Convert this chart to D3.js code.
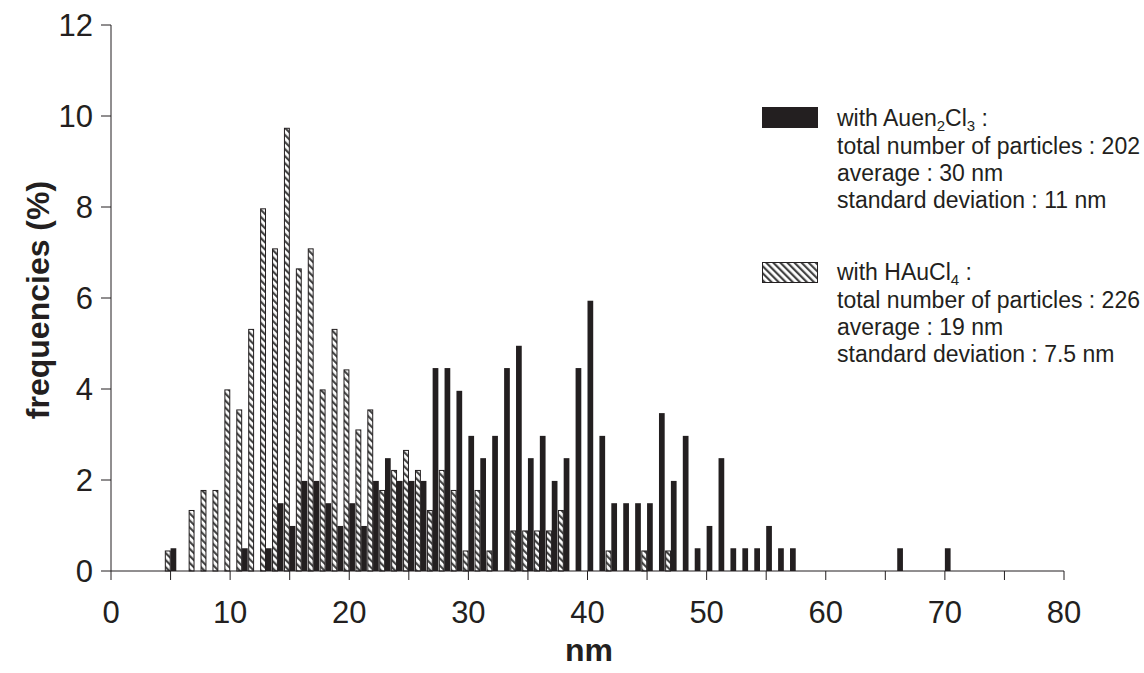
<!DOCTYPE html>
<html>
<head>
<meta charset="utf-8">
<script src="https://cdn.jsdelivr.net/npm/d3@7/dist/d3.min.js"></script>
<style>
  html, body { margin: 0; padding: 0; background: #fff; }
  svg { display: block; font-family: "Liberation Sans", Arial, sans-serif; }
</style>
</head>
<body>
<svg id="chart" width="1144" height="673"></svg>
<script>
// Particle size bins (nm)
const hauBins = [5, 7, 8, 9, 10, 11, 12, 13, 14, 15, 16, 17, 18, 19, 20, 21, 22, 23, 24, 25, 26, 27, 28, 29, 30, 31, 32, 34, 35, 36, 37, 38, 42, 45, 47];
// frequencies (%) with HAuCl4
const hauValues = [0.44, 1.33, 1.77, 1.77, 3.98, 3.54, 5.31, 7.96, 7.08, 9.73, 6.64, 7.08, 3.98, 5.31, 4.42, 3.10, 3.54, 1.77, 2.21, 2.65, 2.21, 1.33, 2.21, 1.77, 0.44, 1.77, 0.44, 0.88, 0.88, 0.88, 0.88, 1.33, 0.44, 0.44, 0.44];

const auenBins = [5, 11, 13, 14, 15, 16, 17, 18, 19, 20, 21, 22, 23, 24, 25, 26, 27, 28, 29, 30, 31, 32, 33, 34, 35, 36, 37, 38, 39, 40, 41, 42, 43, 44, 45, 46, 47, 48, 49, 50, 51, 52, 53, 54, 55, 56, 57, 66, 70];
// frequencies (%) with Auen2Cl3
const auenValues = [0.50, 0.50, 0.50, 1.49, 0.99, 1.98, 1.98, 1.49, 0.99, 1.49, 0.99, 1.98, 2.48, 1.98, 1.98, 1.98, 4.46, 4.46, 3.96, 2.97, 2.48, 2.97, 4.46, 4.95, 2.48, 2.97, 1.98, 2.48, 4.46, 5.94, 2.97, 1.49, 1.49, 1.49, 1.49, 3.47, 1.98, 2.97, 0.50, 0.99, 2.48, 0.50, 0.50, 0.50, 0.99, 0.50, 0.50, 0.50, 0.50];

const xTicks = [0, 10, 20, 30, 40, 50, 60, 70, 80];
const xMinorTicks = [0, 5, 10, 15, 20, 25, 30, 35, 40, 45, 50, 55, 60, 65, 70, 75, 80];
const yTicks = [0, 2, 4, 6, 8, 10, 12];

const legend1 = ["total number of particles : 202", "average : 30 nm", "standard deviation : 11 nm"];
const legend2 = ["total number of particles : 226", "average : 19 nm", "standard deviation : 7.5 nm"];

const ink = "#231f20";
const svg = d3.select("#chart");

const x = d3.scaleLinear().domain([0, 80]).range([111, 1064]);
const y = d3.scaleLinear().domain([0, 12]).range([571, 25]);

// hatch pattern
const defs = svg.append("defs");
const pat = defs.append("pattern")
  .attr("id", "hatch")
  .attr("patternUnits", "userSpaceOnUse")
  .attr("width", 5).attr("height", 5)
  .attr("patternTransform", "rotate(-45)");
pat.append("rect").attr("width", 5).attr("height", 5).attr("fill", "#fff");
pat.append("rect").attr("x", 0).attr("y", 0).attr("width", 2.2).attr("height", 5).attr("fill", "#444");

// bars: hatched
svg.append("g").selectAll("rect")
  .data(hauBins.map((b, i) => ({ b, v: hauValues[i] })))
  .join("rect")
  .attr("x", d => x(d.b - 0.44))
  .attr("width", d => x(d.b - 0.03) - x(d.b - 0.44))
  .attr("y", d => y(d.v))
  .attr("height", d => y(0) - y(d.v))
  .attr("fill", "url(#hatch)")
  .attr("stroke", ink)
  .attr("stroke-width", 1);

// bars: black
svg.append("g").selectAll("rect")
  .data(auenBins.map((b, i) => ({ b, v: auenValues[i] })))
  .join("rect")
  .attr("x", d => x(d.b))
  .attr("width", d => x(d.b + 0.48) - x(d.b))
  .attr("y", d => y(d.v))
  .attr("height", d => y(0) - y(d.v))
  .attr("fill", ink);

// x axis
const gx = svg.append("g").attr("transform", `translate(0,${y(0)})`);
gx.append("line").attr("x1", x(0)).attr("x2", x(80)).attr("stroke", ink).attr("stroke-width", 1);
gx.selectAll("line.tk").data(xMinorTicks).join("line").attr("class", "tk")
  .attr("x1", d => x(d)).attr("x2", d => x(d)).attr("y1", 0).attr("y2", 9)
  .attr("stroke", ink).attr("stroke-width", 1);
gx.selectAll("text").data(xTicks).join("text")
  .attr("x", d => x(d)).attr("y", 52)
  .attr("text-anchor", "middle")
  .attr("font-size", 31).attr("fill", ink)
  .text(d => d);

// y axis
const gy = svg.append("g");
gy.append("line").attr("x1", x(0)).attr("x2", x(0)).attr("y1", y(0)).attr("y2", y(12)).attr("stroke", ink);
gy.selectAll("line.tk").data(yTicks).join("line").attr("class", "tk")
  .attr("x1", x(0) - 10).attr("x2", x(0)).attr("y1", d => y(d)).attr("y2", d => y(d))
  .attr("stroke", ink);
gy.selectAll("text").data(yTicks).join("text")
  .attr("x", 93).attr("y", d => y(d) + 11)
  .attr("text-anchor", "end")
  .attr("font-size", 31).attr("fill", ink)
  .text(d => d);

// axis titles
svg.append("text")
  .attr("x", 589).attr("y", 661)
  .attr("text-anchor", "middle")
  .attr("font-size", 32).attr("font-weight", "bold").attr("fill", ink)
  .text("nm");
svg.append("text")
  .attr("transform", "translate(49,300) rotate(-90)")
  .attr("text-anchor", "middle")
  .attr("font-size", 32).attr("font-weight", "bold").attr("fill", ink)
  .text("frequencies (%)");

// legend
const lg = svg.append("g");
lg.append("rect").attr("x", 762).attr("y", 107).attr("width", 56).attr("height", 21).attr("fill", ink);
lg.append("rect").attr("x", 762.5).attr("y", 262.5).attr("width", 55).attr("height", 20)
  .attr("fill", "url(#hatch)").attr("stroke", ink);

function header(yb, parts) {
  const t = lg.append("text").attr("x", 837).attr("y", yb).attr("font-size", 23).attr("fill", ink);
  let shifted = false;
  parts.forEach(p => {
    const ts = t.append("tspan").text(p.t);
    if (p.sub) { ts.attr("font-size", 15).attr("dy", 5); shifted = true; }
    else if (shifted) { ts.attr("dy", -5); shifted = false; }
  });
}
header(126, [{ t: "with Auen" }, { t: "2", sub: true }, { t: "Cl" }, { t: "3", sub: true }, { t: " :" }]);
header(280, [{ t: "with HAuCl" }, { t: "4", sub: true }, { t: " :" }]);
lg.selectAll("text.l1").data(legend1).join("text").attr("class", "l1")
  .attr("x", 837).attr("y", (d, i) => 153.5 + i * 27.3)
  .attr("font-size", 23).attr("fill", ink).text(d => d);
lg.selectAll("text.l2").data(legend2).join("text").attr("class", "l2")
  .attr("x", 837).attr("y", (d, i) => 307.5 + i * 27.3)
  .attr("font-size", 23).attr("fill", ink).text(d => d);
</script>
</body>
</html>
